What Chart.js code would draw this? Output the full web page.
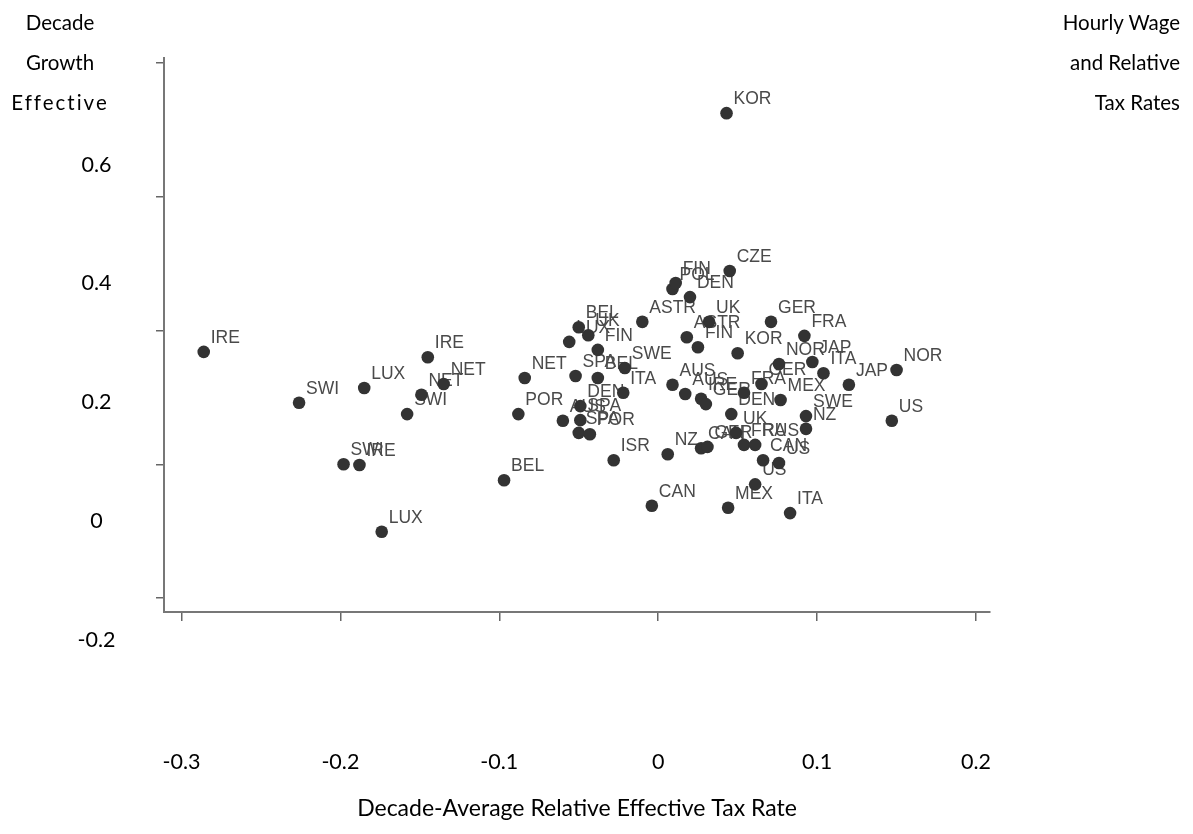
<!DOCTYPE html>
<html>
<head>
<meta charset="utf-8">
<script src="https://cdn.jsdelivr.net/npm/chart.js@4.4.1/dist/chart.umd.min.js"></script>
<style>
html,body{margin:0;padding:0;background:#fff;}
#wrap{position:relative;width:1193px;height:834px;overflow:hidden;}
#c{position:absolute;left:0;top:0;}
.t{position:absolute;font-family:Lato,"Open Sans",sans-serif;font-size:20.5px;color:#000;line-height:40px;}
</style>
</head>
<body>
<div id="wrap">
<canvas id="c" width="1193" height="834"></canvas>
<div class="t" style="left:0;width:120px;top:2px;text-align:center">Decade<br>Growth<br><span style="letter-spacing:2px">Effective</span></div>
<div class="t" style="right:13px;top:2px;text-align:right">Hourly Wage<br>and Relative<br>Tax Rates</div>
</div>
<script>
// ---- data ----
const countries = ["IRE","SWI","LUX","IRE","NET","NET","SWI","SWI","IRE","LUX",
  "BEL","POR","NET","SPA","BEL","SWE","ITA","DEN","AUS","SPA",
  "SPA","POR","ISR","NZ","CAN","BEL","UK","LUX","FIN","ASTR",
  "POL","FIN","DEN","CZE","KOR","UK","ASTR","FIN","KOR","GER",
  "FRA","NOR","JAP","ITA","GER","FRA","MEX","DEN","SWE","NZ",
  "JAP","NOR","US","UK","AUS","AUS","IRE","GER","CAN","GER",
  "FRA","RUS","CAN","US","US","MEX","ITA"];
const taxRate = [-0.286,-0.226,-0.185,-0.145,-0.135,-0.149,-0.158,-0.198,-0.188,-0.174,
  -0.097,-0.088,-0.084,-0.052,-0.038,-0.021,-0.022,-0.049,-0.060,-0.049,
  -0.050,-0.043,-0.028,0.006,-0.004,-0.050,-0.044,-0.056,-0.038,-0.010,
  0.009,0.011,0.020,0.045,0.043,0.032,0.018,0.025,0.050,0.071,
  0.092,0.076,0.097,0.104,0.065,0.054,0.077,0.046,0.093,0.093,
  0.120,0.150,0.147,0.049,0.009,0.017,0.027,0.030,0.027,0.031,
  0.054,0.061,0.066,0.076,0.061,0.044,0.083];
const wageGrowth = [0.168,0.092,0.114,0.160,0.120,0.104,0.075,0.000,-0.001,-0.101,
  -0.024,0.075,0.129,0.132,0.129,0.144,0.107,0.087,0.065,0.066,
  0.047,0.045,0.006,0.015,-0.062,0.205,0.193,0.183,0.171,0.213,
  0.262,0.271,0.250,0.289,0.525,0.213,0.190,0.175,0.166,0.213,
  0.192,0.150,0.153,0.136,0.120,0.107,0.096,0.075,0.072,0.053,
  0.119,0.141,0.065,0.047,0.119,0.105,0.098,0.090,0.024,0.026,
  0.029,0.029,0.006,0.002,-0.030,-0.065,-0.073];
const xTickValues = [-0.3,-0.2,-0.1,0,0.1,0.2];
const yTickValues = [-0.2,0,0.2,0.4,0.6];

const tickFont = {family:'Lato, "Open Sans", sans-serif', size:21.5};
const titleFont = {family:'Lato, "Open Sans", sans-serif', size:23};
const pointFont = '17.5px "Liberation Sans", Arial, sans-serif';

const labelPlugin = {
  id:'pointLabels',
  beforeDatasetsDraw(chart){
    const ctx = chart.ctx, meta = chart.getDatasetMeta(0);
    ctx.save();
    ctx.font = pointFont;
    ctx.fillStyle = '#4a4a4a';
    ctx.textAlign = 'left';
    ctx.textBaseline = 'middle';
    meta.data.forEach((pt,i)=>{ ctx.fillText(countries[i], pt.x+7, pt.y-14); });
    ctx.restore();
  }
};

new Chart(document.getElementById('c'), {
  type:'scatter',
  data:{datasets:[{
    data: taxRate.map((x,i)=>({x:x, y:wageGrowth[i]})),
    pointRadius:6.3, pointHoverRadius:6.3,
    pointBackgroundColor:'#333', pointBorderColor:'#333', pointBorderWidth:0
  }]},
  options:{
    responsive:false, animation:false,
    layout:{padding:{left:0,right:203,top:58,bottom:0}},
    plugins:{legend:{display:false}, tooltip:{enabled:false}},
    scales:{
      x:{
        type:'linear', position:'bottom', min:-0.311, max:0.2088,
        afterBuildTicks: s => { s.ticks = xTickValues.map(v=>({value:v})); },
        afterFit: s => { s.height = 222; },
        grid:{display:true, drawOnChartArea:false, drawTicks:true, tickLength:9, color:'#666', lineWidth:1.5},
        border:{display:true, color:'#777', width:2},
        ticks:{padding:128, color:'#000', font:tickFont, autoSkip:false, maxRotation:0, callback:v=>String(v)},
        title:{display:true, text:'Decade-Average Relative Effective Tax Rate', color:'#000', font:titleFont, padding:{top:0,bottom:12}}
      },
      y:{
        type:'linear', position:'left', weight:0, min:-0.2209, max:0.6075,
        afterBuildTicks: s => { s.ticks = yTickValues.map(v=>({value:v})); },
        afterFit: s => { s.width = 10; },
        grid:{display:true, drawOnChartArea:false, drawTicks:true, tickLength:8, color:'#666', lineWidth:1.5},
        border:{display:true, color:'#777', width:2},
        ticks:{display:false}
      },
      yl:{
        type:'linear', position:'left', weight:1, min:-0.1533, max:0.7798,
        afterBuildTicks: s => { s.ticks = yTickValues.map(v=>({value:v})); },
        afterFit: s => { s.width = 154; },
        grid:{display:false, drawTicks:false},
        border:{display:false},
        ticks:{crossAlign:'center', padding:38.5, color:'#000', font:tickFont, autoSkip:false, callback:v=>String(v)}
      }
    }
  },
  plugins:[labelPlugin]
});
</script>
</body>
</html>
